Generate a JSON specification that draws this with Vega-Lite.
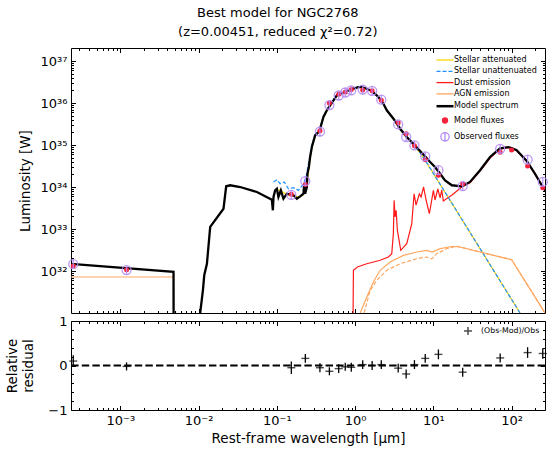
{
  "$schema": "https://vega.github.io/schema/vega-lite/v6.json",
  "background": "white",
  "padding": {"left": 5, "right": 7, "top": 7, "bottom": 4},
  "title": {"text": ["Best model for NGC2768", "(z=0.00451, reduced χ²=0.72)"], "fontSize": 13, "font": "DejaVu Sans", "fontWeight": "normal", "anchor": "middle", "lineHeight": 19, "offset": 8, "color": "black"},
  "datasets": {
    "spec": [
      {"l": 0.00023, "v": 1.48e32, "s": "Model spectrum", "k": "m1"},
      {"l": 0.00478, "v": 9.6e31, "s": "Model spectrum", "k": "m1"},
      {"l": 0.00479, "v": 1e31, "s": "Model spectrum", "k": "m1"},
      {"l": 0.01047, "v": 1e31, "s": "Model spectrum", "k": "m2"},
      {"l": 0.01135, "v": 3.47e31, "s": "Model spectrum", "k": "m2"},
      {"l": 0.0118, "v": 7.9e31, "s": "Model spectrum", "k": "m2"},
      {"l": 0.01277, "v": 1.49e32, "s": "Model spectrum", "k": "m2"},
      {"l": 0.01406, "v": 1.12e33, "s": "Model spectrum", "k": "m2"},
      {"l": 0.0208, "v": 3.04e33, "s": "Model spectrum", "k": "m2"},
      {"l": 0.0225, "v": 1.04e34, "s": "Model spectrum", "k": "m2"},
      {"l": 0.02534, "v": 1.1e34, "s": "Model spectrum", "k": "m2"},
      {"l": 0.03398, "v": 1.0e34, "s": "Model spectrum", "k": "m2"},
      {"l": 0.0556, "v": 7.6e33, "s": "Model spectrum", "k": "m2"},
      {"l": 0.0863, "v": 4.99e33, "s": "Model spectrum", "k": "m2"},
      {"l": 0.0889, "v": 2.79e33, "s": "Model spectrum", "k": "m2"},
      {"l": 0.0906, "v": 5.78e33, "s": "Model spectrum", "k": "m2"},
      {"l": 0.0951, "v": 8.34e33, "s": "Model spectrum", "k": "m2"},
      {"l": 0.1, "v": 9.12e33, "s": "Model spectrum", "k": "m2"},
      {"l": 0.1047, "v": 5.78e33, "s": "Model spectrum", "k": "m2"},
      {"l": 0.1125, "v": 8.34e33, "s": "Model spectrum", "k": "m2"},
      {"l": 0.1214, "v": 5.26e33, "s": "Model spectrum", "k": "m2"},
      {"l": 0.1343, "v": 6.92e33, "s": "Model spectrum", "k": "m2"},
      {"l": 0.1449, "v": 6.7e33, "s": "Model spectrum", "k": "m2"},
      {"l": 0.163, "v": 6.34e33, "s": "Model spectrum", "k": "m2"},
      {"l": 0.18, "v": 5.26e33, "s": "Model spectrum", "k": "m2"},
      {"l": 0.1986, "v": 6.0e33, "s": "Model spectrum", "k": "m2"},
      {"l": 0.2188, "v": 6.92e33, "s": "Model spectrum", "k": "m2"},
      {"l": 0.2234, "v": 1.2e34, "s": "Model spectrum", "k": "m2"},
      {"l": 0.2298, "v": 6.92e33, "s": "Model spectrum", "k": "m2"},
      {"l": 0.2415, "v": 1.0e34, "s": "Model spectrum", "k": "m2"},
      {"l": 0.2459, "v": 2.07e34, "s": "Model spectrum", "k": "m2"},
      {"l": 0.2564, "v": 2.99e34, "s": "Model spectrum", "k": "m2"},
      {"l": 0.266, "v": 5.18e34, "s": "Model spectrum", "k": "m2"},
      {"l": 0.28, "v": 8.96e34, "s": "Model spectrum", "k": "m2"},
      {"l": 0.3083, "v": 1.7e35, "s": "Model spectrum", "k": "m2"},
      {"l": 0.35, "v": 2.15e35, "s": "Model spectrum", "k": "m2"},
      {"l": 0.3937, "v": 4.64e35, "s": "Model spectrum", "k": "m2"},
      {"l": 0.4352, "v": 6.7e35, "s": "Model spectrum", "k": "m2"},
      {"l": 0.4797, "v": 8.8e35, "s": "Model spectrum", "k": "m2"},
      {"l": 0.5838, "v": 1.52e36, "s": "Model spectrum", "k": "m2"},
      {"l": 0.745, "v": 1.83e36, "s": "Model spectrum", "k": "m2"},
      {"l": 0.863, "v": 2.08e36, "s": "Model spectrum", "k": "m2"},
      {"l": 1.1, "v": 2.4e36, "s": "Model spectrum", "k": "m2"},
      {"l": 1.218, "v": 2.4e36, "s": "Model spectrum", "k": "m2"},
      {"l": 1.41, "v": 2.19e36, "s": "Model spectrum", "k": "m2"},
      {"l": 1.633, "v": 1.93e36, "s": "Model spectrum", "k": "m2"},
      {"l": 1.985, "v": 1.39e36, "s": "Model spectrum", "k": "m2"},
      {"l": 2.3, "v": 9.6e35, "s": "Model spectrum", "k": "m2"},
      {"l": 2.54, "v": 6.7e35, "s": "Model spectrum", "k": "m2"},
      {"l": 3.09, "v": 4.23e35, "s": "Model spectrum", "k": "m2"},
      {"l": 3.76, "v": 2.44e35, "s": "Model spectrum", "k": "m2"},
      {"l": 4.57, "v": 1.55e35, "s": "Model spectrum", "k": "m2"},
      {"l": 5.56, "v": 1.07e35, "s": "Model spectrum", "k": "m2"},
      {"l": 6.76, "v": 7.2e34, "s": "Model spectrum", "k": "m2"},
      {"l": 7.83, "v": 5.38e34, "s": "Model spectrum", "k": "m2"},
      {"l": 9.08, "v": 3.94e34, "s": "Model spectrum", "k": "m2"},
      {"l": 10.5, "v": 2.99e34, "s": "Model spectrum", "k": "m2"},
      {"l": 12.2, "v": 2.07e34, "s": "Model spectrum", "k": "m2"},
      {"l": 14.1, "v": 1.44e34, "s": "Model spectrum", "k": "m2"},
      {"l": 17.2, "v": 1.1e34, "s": "Model spectrum", "k": "m2"},
      {"l": 23.1, "v": 1.04e34, "s": "Model spectrum", "k": "m2"},
      {"l": 29.4, "v": 1.32e34, "s": "Model spectrum", "k": "m2"},
      {"l": 39.5, "v": 2.5e34, "s": "Model spectrum", "k": "m2"},
      {"l": 53.0, "v": 5.18e34, "s": "Model spectrum", "k": "m2"},
      {"l": 71.1, "v": 8.3e34, "s": "Model spectrum", "k": "m2"},
      {"l": 90.8, "v": 8.9e34, "s": "Model spectrum", "k": "m2"},
      {"l": 100, "v": 8.5e34, "s": "Model spectrum", "k": "m2"},
      {"l": 116, "v": 7.5e34, "s": "Model spectrum", "k": "m2"},
      {"l": 128, "v": 6.2e34, "s": "Model spectrum", "k": "m2"},
      {"l": 156, "v": 4.17e34, "s": "Model spectrum", "k": "m2"},
      {"l": 199, "v": 2.07e34, "s": "Model spectrum", "k": "m2"},
      {"l": 250, "v": 1.0e34, "s": "Model spectrum", "k": "m2"},
      {"l": 283, "v": 7.2e33, "s": "Model spectrum", "k": "m2"},

      {"l": 0.0906, "v": 5.5e33, "s": "Stellar attenuated", "k": "sa"},
      {"l": 0.0951, "v": 8.0e33, "s": "Stellar attenuated", "k": "sa"},
      {"l": 0.1, "v": 8.8e33, "s": "Stellar attenuated", "k": "sa"},
      {"l": 0.1125, "v": 8.0e33, "s": "Stellar attenuated", "k": "sa"},
      {"l": 0.1343, "v": 6.6e33, "s": "Stellar attenuated", "k": "sa"},
      {"l": 0.163, "v": 6.1e33, "s": "Stellar attenuated", "k": "sa"},
      {"l": 0.1986, "v": 5.8e33, "s": "Stellar attenuated", "k": "sa"},
      {"l": 0.2188, "v": 6.6e33, "s": "Stellar attenuated", "k": "sa"},
      {"l": 0.2415, "v": 9.5e33, "s": "Stellar attenuated", "k": "sa"},
      {"l": 0.2564, "v": 2.9e34, "s": "Stellar attenuated", "k": "sa"},
      {"l": 0.28, "v": 8.7e34, "s": "Stellar attenuated", "k": "sa"},
      {"l": 0.3083, "v": 1.66e35, "s": "Stellar attenuated", "k": "sa"},
      {"l": 0.35, "v": 2.1e35, "s": "Stellar attenuated", "k": "sa"},
      {"l": 0.3937, "v": 4.55e35, "s": "Stellar attenuated", "k": "sa"},
      {"l": 0.4797, "v": 8.7e35, "s": "Stellar attenuated", "k": "sa"},
      {"l": 0.5838, "v": 1.5e36, "s": "Stellar attenuated", "k": "sa"},
      {"l": 0.745, "v": 1.81e36, "s": "Stellar attenuated", "k": "sa"},
      {"l": 0.863, "v": 2.06e36, "s": "Stellar attenuated", "k": "sa"},
      {"l": 1.1, "v": 2.38e36, "s": "Stellar attenuated", "k": "sa"},
      {"l": 1.218, "v": 2.38e36, "s": "Stellar attenuated", "k": "sa"},
      {"l": 1.41, "v": 2.17e36, "s": "Stellar attenuated", "k": "sa"},
      {"l": 1.633, "v": 1.91e36, "s": "Stellar attenuated", "k": "sa"},
      {"l": 1.985, "v": 1.37e36, "s": "Stellar attenuated", "k": "sa"},
      {"l": 2.3, "v": 9.5e35, "s": "Stellar attenuated", "k": "sa"},
      {"l": 2.54, "v": 6.6e35, "s": "Stellar attenuated", "k": "sa"},
      {"l": 3.09, "v": 4.15e35, "s": "Stellar attenuated", "k": "sa"},
      {"l": 3.76, "v": 2.4e35, "s": "Stellar attenuated", "k": "sa"},
      {"l": 4.57, "v": 1.5e35, "s": "Stellar attenuated", "k": "sa"},
      {"l": 5.56, "v": 9.8e34, "s": "Stellar attenuated", "k": "sa"},
      {"l": 6.76, "v": 6.5e34, "s": "Stellar attenuated", "k": "sa"},
      {"l": 7.83, "v": 4.37e34, "s": "Stellar attenuated", "k": "sa"},
      {"l": 267, "v": 1.1e30, "s": "Stellar attenuated", "k": "sa"},

      {"l": 0.0906, "v": 1.32e34, "s": "Stellar unattenuated", "k": "su"},
      {"l": 0.1, "v": 1.49e34, "s": "Stellar unattenuated", "k": "su"},
      {"l": 0.11, "v": 1.2e34, "s": "Stellar unattenuated", "k": "su"},
      {"l": 0.124, "v": 1.32e34, "s": "Stellar unattenuated", "k": "su"},
      {"l": 0.1406, "v": 9.1e33, "s": "Stellar unattenuated", "k": "su"},
      {"l": 0.163, "v": 9.6e33, "s": "Stellar unattenuated", "k": "su"},
      {"l": 0.189, "v": 8.3e33, "s": "Stellar unattenuated", "k": "su"},
      {"l": 0.219, "v": 1.2e34, "s": "Stellar unattenuated", "k": "su"},
      {"l": 0.2366, "v": 1.74e34, "s": "Stellar unattenuated", "k": "su"},
      {"l": 0.2535, "v": 3.6e34, "s": "Stellar unattenuated", "k": "su"},
      {"l": 0.28, "v": 1.0e35, "s": "Stellar unattenuated", "k": "su"},
      {"l": 0.3083, "v": 1.8e35, "s": "Stellar unattenuated", "k": "su"},
      {"l": 0.35, "v": 2.3e35, "s": "Stellar unattenuated", "k": "su"},
      {"l": 0.3937, "v": 4.9e35, "s": "Stellar unattenuated", "k": "su"},
      {"l": 0.4797, "v": 9.2e35, "s": "Stellar unattenuated", "k": "su"},
      {"l": 0.5838, "v": 1.57e36, "s": "Stellar unattenuated", "k": "su"},
      {"l": 0.745, "v": 1.87e36, "s": "Stellar unattenuated", "k": "su"},
      {"l": 0.863, "v": 2.1e36, "s": "Stellar unattenuated", "k": "su"},
      {"l": 1.1, "v": 2.42e36, "s": "Stellar unattenuated", "k": "su"},
      {"l": 1.218, "v": 2.42e36, "s": "Stellar unattenuated", "k": "su"},
      {"l": 1.41, "v": 2.2e36, "s": "Stellar unattenuated", "k": "su"},
      {"l": 1.633, "v": 1.94e36, "s": "Stellar unattenuated", "k": "su"},
      {"l": 1.985, "v": 1.39e36, "s": "Stellar unattenuated", "k": "su"},
      {"l": 2.3, "v": 9.6e35, "s": "Stellar unattenuated", "k": "su"},
      {"l": 2.54, "v": 6.7e35, "s": "Stellar unattenuated", "k": "su"},
      {"l": 3.09, "v": 4.2e35, "s": "Stellar unattenuated", "k": "su"},
      {"l": 3.76, "v": 2.43e35, "s": "Stellar unattenuated", "k": "su"},
      {"l": 4.57, "v": 1.52e35, "s": "Stellar unattenuated", "k": "su"},
      {"l": 5.56, "v": 9.9e34, "s": "Stellar unattenuated", "k": "su"},
      {"l": 6.76, "v": 6.6e34, "s": "Stellar unattenuated", "k": "su"},
      {"l": 7.83, "v": 4.4e34, "s": "Stellar unattenuated", "k": "su"},
      {"l": 267, "v": 1.1e30, "s": "Stellar unattenuated", "k": "su"},

      {"l": 0.942, "v": 1e31, "s": "Dust emission", "k": "dust"},
      {"l": 0.951, "v": 1.04e32, "s": "Dust emission", "k": "dust"},
      {"l": 1.07, "v": 1.25e32, "s": "Dust emission", "k": "dust"},
      {"l": 1.41, "v": 1.49e32, "s": "Dust emission", "k": "dust"},
      {"l": 2.09, "v": 1.8e32, "s": "Dust emission", "k": "dust"},
      {"l": 2.66, "v": 2.15e32, "s": "Dust emission", "k": "dust"},
      {"l": 2.94, "v": 2.58e32, "s": "Dust emission", "k": "dust"},
      {"l": 3.08, "v": 7.7e32, "s": "Dust emission", "k": "dust"},
      {"l": 3.15, "v": 4.8e33, "s": "Dust emission", "k": "dust"},
      {"l": 3.24, "v": 1.93e33, "s": "Dust emission", "k": "dust"},
      {"l": 3.34, "v": 2.79e33, "s": "Dust emission", "k": "dust"},
      {"l": 3.47, "v": 9.3e32, "s": "Dust emission", "k": "dust"},
      {"l": 3.83, "v": 3.11e32, "s": "Dust emission", "k": "dust"},
      {"l": 4.57, "v": 4.47e32, "s": "Dust emission", "k": "dust"},
      {"l": 5.3, "v": 1.34e33, "s": "Dust emission", "k": "dust"},
      {"l": 5.67, "v": 6.9e33, "s": "Dust emission", "k": "dust"},
      {"l": 6.01, "v": 3.72e33, "s": "Dust emission", "k": "dust"},
      {"l": 6.62, "v": 6.9e33, "s": "Dust emission", "k": "dust"},
      {"l": 6.96, "v": 5.78e33, "s": "Dust emission", "k": "dust"},
      {"l": 7.5, "v": 1.0e34, "s": "Dust emission", "k": "dust"},
      {"l": 8.07, "v": 4.9e33, "s": "Dust emission", "k": "dust"},
      {"l": 8.89, "v": 2.31e33, "s": "Dust emission", "k": "dust"},
      {"l": 10.0, "v": 8.3e33, "s": "Dust emission", "k": "dust"},
      {"l": 10.5, "v": 4.9e33, "s": "Dust emission", "k": "dust"},
      {"l": 11.4, "v": 8.96e33, "s": "Dust emission", "k": "dust"},
      {"l": 12.2, "v": 5.5e33, "s": "Dust emission", "k": "dust"},
      {"l": 12.8, "v": 8.5e33, "s": "Dust emission", "k": "dust"},
      {"l": 13.4, "v": 4.65e33, "s": "Dust emission", "k": "dust"},
      {"l": 17.3, "v": 6.45e33, "s": "Dust emission", "k": "dust"},
      {"l": 23.1, "v": 1.0e34, "s": "Dust emission", "k": "dust"},
      {"l": 29.4, "v": 1.26e34, "s": "Dust emission", "k": "dust"},
      {"l": 39.5, "v": 2.4e34, "s": "Dust emission", "k": "dust"},
      {"l": 53.0, "v": 4.9e34, "s": "Dust emission", "k": "dust"},
      {"l": 71.1, "v": 8.0e34, "s": "Dust emission", "k": "dust"},
      {"l": 90.8, "v": 8.7e34, "s": "Dust emission", "k": "dust"},
      {"l": 100, "v": 8.3e34, "s": "Dust emission", "k": "dust"},
      {"l": 116, "v": 7.3e34, "s": "Dust emission", "k": "dust"},
      {"l": 128, "v": 6.0e34, "s": "Dust emission", "k": "dust"},
      {"l": 156, "v": 4.05e34, "s": "Dust emission", "k": "dust"},
      {"l": 199, "v": 2.0e34, "s": "Dust emission", "k": "dust"},
      {"l": 250, "v": 9.7e33, "s": "Dust emission", "k": "dust"},
      {"l": 283, "v": 7.0e33, "s": "Dust emission", "k": "dust"},

      {"l": 0.00023, "v": 7.2e31, "s": "AGN emission", "k": "agnx"},
      {"l": 0.00478, "v": 7.2e31, "s": "AGN emission", "k": "agnx"},
      {"l": 0.00479, "v": 1e31, "s": "AGN emission", "k": "agnx"},

      {"l": 1.16, "v": 1e31, "s": "AGN emission", "k": "agn"},
      {"l": 1.41, "v": 2.4e31, "s": "AGN emission", "k": "agn"},
      {"l": 1.71, "v": 5.5e31, "s": "AGN emission", "k": "agn"},
      {"l": 2.09, "v": 1.04e32, "s": "AGN emission", "k": "agn"},
      {"l": 2.8, "v": 1.64e32, "s": "AGN emission", "k": "agn"},
      {"l": 4.14, "v": 2.36e32, "s": "AGN emission", "k": "agn"},
      {"l": 6.14, "v": 2.83e32, "s": "AGN emission", "k": "agn"},
      {"l": 8.24, "v": 3.11e32, "s": "AGN emission", "k": "agn"},
      {"l": 9.62, "v": 2.83e32, "s": "AGN emission", "k": "agn"},
      {"l": 12.2, "v": 3.4e32, "s": "AGN emission", "k": "agn"},
      {"l": 18.0, "v": 3.88e32, "s": "AGN emission", "k": "agn"},
      {"l": 21.9, "v": 3.72e32, "s": "AGN emission", "k": "agn"},
      {"l": 39.5, "v": 2.83e32, "s": "AGN emission", "k": "agn"},
      {"l": 100, "v": 1.86e32, "s": "AGN emission", "k": "agn"},
      {"l": 267, "v": 1e31, "s": "AGN emission", "k": "agn"},

      {"l": 1.3, "v": 1e31, "s": "AGN emission", "k": "agnd"},
      {"l": 1.56, "v": 3.47e31, "s": "AGN emission", "k": "agnd"},
      {"l": 1.89, "v": 6.0e31, "s": "AGN emission", "k": "agnd"},
      {"l": 2.54, "v": 1.04e32, "s": "AGN emission", "k": "agnd"},
      {"l": 3.76, "v": 1.49e32, "s": "AGN emission", "k": "agnd"},
      {"l": 6.14, "v": 1.96e32, "s": "AGN emission", "k": "agnd"},
      {"l": 8.24, "v": 2.15e32, "s": "AGN emission", "k": "agnd"},
      {"l": 9.55, "v": 1.94e32, "s": "AGN emission", "k": "agnd"},
      {"l": 11.0, "v": 2.58e32, "s": "AGN emission", "k": "agnd"},
      {"l": 14.8, "v": 3.4e32, "s": "AGN emission", "k": "agnd"},
      {"l": 19.9, "v": 3.88e32, "s": "AGN emission", "k": "agnd"},
      {"l": 21.9, "v": 3.72e32, "s": "AGN emission", "k": "agnd"},
      {"l": 39.5, "v": 2.83e32, "s": "AGN emission", "k": "agnd"},
      {"l": 100, "v": 1.86e32, "s": "AGN emission", "k": "agnd"},
      {"l": 267, "v": 1e31, "s": "AGN emission", "k": "agnd"}
    ],
    "phot": [
      {"l": 0.00025, "o": 1.45e32, "m": 1.32e32, "r": 0.10, "rl": -0.03, "rh": 0.23},
      {"l": 0.0012, "o": 1.05e32, "m": 1.07e32, "r": -0.02, "rl": -0.11, "rh": 0.07},
      {"l": 0.153, "o": 6.46e33, "m": 6.76e33, "r": -0.05, "rl": -0.19, "rh": 0.09},
      {"l": 0.231, "o": 1.38e34, "m": 1.15e34, "r": 0.16, "rl": 0.06, "rh": 0.26},
      {"l": 0.355, "o": 2.09e35, "m": 2.19e35, "r": -0.05, "rl": -0.15, "rh": 0.05},
      {"l": 0.469, "o": 8.91e35, "m": 1.0e36, "r": -0.13, "rl": -0.22, "rh": -0.04},
      {"l": 0.617, "o": 1.51e36, "m": 1.62e36, "r": -0.07, "rl": -0.17, "rh": 0.03},
      {"l": 0.748, "o": 1.78e36, "m": 1.82e36, "r": -0.03, "rl": -0.12, "rh": 0.06},
      {"l": 0.893, "o": 2.0e36, "m": 2.09e36, "r": -0.04, "rl": -0.14, "rh": 0.06},
      {"l": 1.25, "o": 2.09e36, "m": 2.04e36, "r": 0.02, "rl": -0.08, "rh": 0.12},
      {"l": 1.65, "o": 1.95e36, "m": 1.95e36, "r": 0.0, "rl": -0.1, "rh": 0.1},
      {"l": 2.16, "o": 1.2e36, "m": 1.17e36, "r": 0.02, "rl": -0.08, "rh": 0.12},
      {"l": 3.55, "o": 3.09e35, "m": 3.39e35, "r": -0.06, "rl": -0.16, "rh": 0.04},
      {"l": 4.49, "o": 1.55e35, "m": 1.86e35, "r": -0.19, "rl": -0.29, "rh": -0.09},
      {"l": 5.73, "o": 9.77e34, "m": 9.55e34, "r": 0.02, "rl": -0.08, "rh": 0.12},
      {"l": 7.87, "o": 5.37e34, "m": 4.47e34, "r": 0.16, "rl": 0.06, "rh": 0.26},
      {"l": 11.6, "o": 2.51e34, "m": 1.91e34, "r": 0.25, "rl": 0.14, "rh": 0.36},
      {"l": 23.7, "o": 1.05e34, "m": 1.2e34, "r": -0.15, "rl": -0.25, "rh": -0.05},
      {"l": 71.4, "o": 8.13e34, "m": 6.76e34, "r": 0.17, "rl": 0.07, "rh": 0.27},
      {"l": 100, "o": null, "m": 7.59e34, "r": null, "rl": null, "rh": null},
      {"l": 160, "o": 4.47e34, "m": 3.16e34, "r": 0.29, "rl": 0.17, "rh": 0.41},
      {"l": 250, "o": 1.32e34, "m": 9.55e33, "r": 0.27, "rl": 0.15, "rh": 0.39}
    ]
  },
  "spacing": 0,
  "resolve": {"scale": {"color": "independent"}, "legend": {"color": "independent"}},
  "vconcat": [
    {
      "width": 474,
      "height": 265,
      "resolve": {"axis": {"x": "independent", "y": "independent"}},
      "layer": [
        {
          "data": {"name": "spec"},
          "transform": [{"filter": "datum.k == 'sa' || datum.k == 'dust' || datum.k == 'agn' || datum.k == 'agnx'"}],
          "mark": {"type": "line", "strokeWidth": 1.2, "clip": true},
          "encoding": {
            "x": {"field": "l", "type": "quantitative", "scale": {"type": "log", "domain": [0.000234, 267]},
                  "axis": {"orient": "bottom", "values": [0.001, 0.01, 0.1, 1, 10, 100], "labels": false, "tickSize": -4.5, "title": null}},
            "y": {"field": "v", "type": "quantitative", "scale": {"type": "log", "domain": [1e31, 2.04e37]},
                  "axis": {"orient": "left", "values": [1e32, 1e33, 1e34, 1e35, 1e36, 1e37], "tickSize": -4.5, "labelPadding": 8.5,
                           "labelExpr": "datum.value < 2e32 ? '10³²' : datum.value < 2e33 ? '10³³' : datum.value < 2e34 ? '10³⁴' : datum.value < 2e35 ? '10³⁵' : datum.value < 2e36 ? '10³⁶' : '10³⁷'",
                           "title": "Luminosity [W]", "titlePadding": 8}},
            "color": {"field": "s", "type": "nominal",
                      "scale": {"domain": ["Stellar attenuated", "Stellar unattenuated", "Dust emission", "AGN emission", "Model spectrum", "Model fluxes", "Observed fluxes"],
                                "range": ["#ffd700", "#1e90ff", "#ff1a1a", "#ffa861", "#000000", "#f5213b", "#b48cf5"]},
                      "legend": {"title": null, "orient": "top-right", "offset": 5, "padding": 3, "labelFontSize": 8, "labelFont": "DejaVu Sans", "labelColor": "black",
                                 "symbolType": "stroke", "symbolSize": 289, "symbolStrokeWidth": 1.5, "labelOffset": 5, "rowPadding": 3.3,
                                 "encode": {"symbols": {"update": {
                                   "shape": {"signal": "datum.index == 5 ? 'circle' : datum.index == 6 ? 'M-1,0A1,1,0,1,1,1,0A1,1,0,1,1,-1,0M0,-1L0,1' : 'stroke'"},
                                   "size": {"signal": "datum.index == 5 ? 25 : datum.index == 6 ? 70 : 289"},
                                   "strokeDash": {"signal": "datum.index == 1 ? [4,2] : []"},
                                   "strokeWidth": {"signal": "datum.index == 4 ? 2.5 : 1.3"},
                                   "fill": {"signal": "datum.index == 5 ? '#f5213b' : 'transparent'"},
                                   "fillOpacity": {"signal": "datum.index == 5 ? 1 : 0"},
                                   "stroke": {"signal": "['#ffd700','#1e90ff','#ff1a1a','#ffa861','#000000','transparent','#b48cf5'][datum.index]"},
                                   "opacity": {"value": 1}
                                 }}}}},
            "detail": {"field": "k"}
          }
        },
        {
          "data": {"name": "spec"},
          "transform": [{"filter": "datum.k == 'su' || datum.k == 'agnd'"}],
          "mark": {"type": "line", "strokeWidth": 1.2, "strokeDash": [4, 2], "clip": true},
          "encoding": {
            "x": {"field": "l", "type": "quantitative", "scale": {"type": "log", "domain": [0.000234, 267]},
                  "axis": {"orient": "bottom", "values": [0.0003,0.0004,0.0005,0.0006,0.0007,0.0008,0.0009,0.002,0.003,0.004,0.005,0.006,0.007,0.008,0.009,0.02,0.03,0.04,0.05,0.06,0.07,0.08,0.09,0.2,0.3,0.4,0.5,0.6,0.7,0.8,0.9,2,3,4,5,6,7,8,9,20,30,40,50,60,70,80,90,200], "labels": false, "tickSize": -2.5, "title": null}},
            "y": {"field": "v", "type": "quantitative", "scale": {"type": "log", "domain": [1e31, 2.04e37]},
                  "axis": {"orient": "left", "values": [2e31,3e31,4e31,5e31,6e31,7e31,8e31,9e31,2e32,3e32,4e32,5e32,6e32,7e32,8e32,9e32,2e33,3e33,4e33,5e33,6e33,7e33,8e33,9e33,2e34,3e34,4e34,5e34,6e34,7e34,8e34,9e34,2e35,3e35,4e35,5e35,6e35,7e35,8e35,9e35,2e36,3e36,4e36,5e36,6e36,7e36,8e36,9e36], "labels": false, "tickSize": -2.5, "title": null}},
            "color": {"field": "s", "type": "nominal"},
            "detail": {"field": "k"}
          }
        },
        {
          "data": {"name": "spec"},
          "transform": [{"filter": "datum.k == 'm1' || datum.k == 'm2'"}],
          "mark": {"type": "line", "strokeWidth": 2.3, "clip": true},
          "encoding": {
            "x": {"field": "l", "type": "quantitative", "scale": {"type": "log", "domain": [0.000234, 267]},
                  "axis": {"orient": "top", "values": [0.001, 0.01, 0.1, 1, 10, 100], "labels": false, "tickSize": -4.5, "title": null}},
            "y": {"field": "v", "type": "quantitative", "scale": {"type": "log", "domain": [1e31, 2.04e37]},
                  "axis": {"orient": "right", "values": [1e32, 1e33, 1e34, 1e35, 1e36, 1e37], "labels": false, "tickSize": -4.5, "title": null}},
            "color": {"field": "s", "type": "nominal"},
            "detail": {"field": "k"}
          }
        },
        {
          "data": {"name": "phot"},
          "mark": {"type": "point", "filled": true, "shape": "circle", "size": 25, "opacity": 1},
          "encoding": {
            "x": {"field": "l", "type": "quantitative", "scale": {"type": "log", "domain": [0.000234, 267]},
                  "axis": {"orient": "top", "values": [0.0003,0.0004,0.0005,0.0006,0.0007,0.0008,0.0009,0.002,0.003,0.004,0.005,0.006,0.007,0.008,0.009,0.02,0.03,0.04,0.05,0.06,0.07,0.08,0.09,0.2,0.3,0.4,0.5,0.6,0.7,0.8,0.9,2,3,4,5,6,7,8,9,20,30,40,50,60,70,80,90,200], "labels": false, "tickSize": -2.5, "title": null}},
            "y": {"field": "m", "type": "quantitative", "scale": {"type": "log", "domain": [1e31, 2.04e37]},
                  "axis": {"orient": "right", "values": [2e31,3e31,4e31,5e31,6e31,7e31,8e31,9e31,2e32,3e32,4e32,5e32,6e32,7e32,8e32,9e32,2e33,3e33,4e33,5e33,6e33,7e33,8e33,9e33,2e34,3e34,4e34,5e34,6e34,7e34,8e34,9e34,2e35,3e35,4e35,5e35,6e35,7e35,8e35,9e35,2e36,3e36,4e36,5e36,6e36,7e36,8e36,9e36], "labels": false, "tickSize": -2.5, "title": null}},
            "color": {"datum": "Model fluxes", "type": "nominal"}
          }
        },
        {
          "data": {"name": "phot"},
          "transform": [{"filter": "isValid(datum.o)"}],
          "mark": {"type": "point", "filled": false, "shape": "M-1,0A1,1,0,1,1,1,0A1,1,0,1,1,-1,0M0,-1L0,1", "size": 81, "strokeWidth": 1.3, "opacity": 0.9},
          "encoding": {
            "x": {"field": "l", "type": "quantitative", "scale": {"type": "log", "domain": [0.000234, 267]}, "axis": null},
            "y": {"field": "o", "type": "quantitative", "scale": {"type": "log", "domain": [1e31, 2.04e37]}, "axis": null},
            "color": {"datum": "Observed fluxes", "type": "nominal"}
          }
        }
      ]
    },
    {
      "width": 474,
      "height": 89,
      "resolve": {"axis": {"x": "independent", "y": "independent"}},
      "layer": [
        {
          "data": {"values": [{"z": 0}]},
          "mark": {"type": "rule", "strokeDash": [7.4, 3.2], "strokeWidth": 2, "color": "black"},
          "encoding": {
            "y": {"field": "z", "type": "quantitative", "scale": {"domain": [-1, 1]},
                  "axis": {"orient": "left", "values": [-1, 0, 1], "tickSize": -4.5, "labelPadding": 8.5,
                           "labelExpr": "datum.value > 0.5 ? '1' : datum.value < -0.5 ? '−1' : '0'",
                           "title": ["Relative", "residual"], "titlePadding": 12, "titleLineHeight": 16}}
          }
        },
        {
          "data": {"name": "phot"},
          "transform": [{"filter": "isValid(datum.r)"}],
          "mark": {"type": "rule", "strokeWidth": 1.3, "color": "black"},
          "encoding": {
            "x": {"field": "l", "type": "quantitative", "scale": {"type": "log", "domain": [0.000234, 267]},
                  "axis": {"orient": "bottom", "values": [0.001, 0.01, 0.1, 1, 10, 100], "tickSize": -4.5, "labelPadding": 8.5,
                           "labelExpr": "datum.value < 0.002 ? '10⁻³' : datum.value < 0.02 ? '10⁻²' : datum.value < 0.2 ? '10⁻¹' : datum.value < 2 ? '10⁰' : datum.value < 20 ? '10¹' : '10²'",
                           "title": "Rest-frame wavelength [μm]", "titlePadding": 4}},
            "y": {"field": "rl", "type": "quantitative", "scale": {"domain": [-1, 1]},
                  "axis": {"orient": "left", "values": [-0.8, -0.6, -0.4, -0.2, 0.2, 0.4, 0.6, 0.8], "labels": false, "tickSize": -2.5, "title": null}},
            "y2": {"field": "rh"}
          }
        },
        {
          "data": {"name": "phot"},
          "transform": [{"filter": "isValid(datum.r)"}],
          "mark": {"type": "tick", "orient": "horizontal", "size": 8, "thickness": 1.4},
          "encoding": {
            "x": {"field": "l", "type": "quantitative", "scale": {"type": "log", "domain": [0.000234, 267]},
                  "axis": {"orient": "bottom", "values": [0.0003,0.0004,0.0005,0.0006,0.0007,0.0008,0.0009,0.002,0.003,0.004,0.005,0.006,0.007,0.008,0.009,0.02,0.03,0.04,0.05,0.06,0.07,0.08,0.09,0.2,0.3,0.4,0.5,0.6,0.7,0.8,0.9,2,3,4,5,6,7,8,9,20,30,40,50,60,70,80,90,200], "labels": false, "tickSize": -2.5, "title": null}},
            "y": {"field": "r", "type": "quantitative", "scale": {"domain": [-1, 1]},
                  "axis": {"orient": "right", "values": [-1, 0, 1], "labels": false, "tickSize": -4.5, "title": null}},
            "color": {"datum": "(Obs-Mod)/Obs", "type": "nominal", "scale": {"range": ["black"]},
                      "legend": {"title": null, "orient": "top-right", "offset": 5, "symbolType": "M-1,0L1,0M0,-1L0,1", "symbolSize": 64,
                                 "symbolStrokeWidth": 1.5, "symbolStrokeColor": "black", "symbolFillColor": "transparent",
                                 "labelFontSize": 7.8, "labelFont": "DejaVu Sans", "labelColor": "black", "labelOffset": 8}}
          }
        },
        {
          "data": {"name": "phot"},
          "transform": [{"filter": "isValid(datum.r)"}],
          "mark": {"type": "rule", "opacity": 0},
          "encoding": {
            "x": {"field": "l", "type": "quantitative", "scale": {"type": "log", "domain": [0.000234, 267]},
                  "axis": {"orient": "top", "values": [0.001, 0.01, 0.1, 1, 10, 100], "labels": false, "tickSize": -4.5, "title": null}},
            "y": {"field": "rl", "type": "quantitative", "scale": {"domain": [-1, 1]},
                  "axis": {"orient": "right", "values": [-0.8, -0.6, -0.4, -0.2, 0.2, 0.4, 0.6, 0.8], "labels": false, "tickSize": -2.5, "title": null}},
            "y2": {"field": "rh"}
          }
        },
        {
          "data": {"name": "phot"},
          "transform": [{"filter": "isValid(datum.r)"}],
          "mark": {"type": "rule", "opacity": 0},
          "encoding": {
            "x": {"field": "l", "type": "quantitative", "scale": {"type": "log", "domain": [0.000234, 267]},
                  "axis": {"orient": "top", "values": [0.0003,0.0004,0.0005,0.0006,0.0007,0.0008,0.0009,0.002,0.003,0.004,0.005,0.006,0.007,0.008,0.009,0.02,0.03,0.04,0.05,0.06,0.07,0.08,0.09,0.2,0.3,0.4,0.5,0.6,0.7,0.8,0.9,2,3,4,5,6,7,8,9,20,30,40,50,60,70,80,90,200], "labels": false, "tickSize": -2.5, "title": null}},
            "y": {"field": "rl", "type": "quantitative", "scale": {"domain": [-1, 1]}, "axis": null},
            "y2": {"field": "rh"}
          }
        }
      ]
    }
  ],
  "config": {
    "font": "DejaVu Sans",
    "view": {"stroke": "black", "strokeWidth": 1},
    "axis": {"grid": false, "domain": false, "tickColor": "black", "tickWidth": 1, "labelColor": "black", "labelFont": "DejaVu Sans", "labelFontSize": 13, "labelFlush": false, "labelOverlap": false, "titleFont": "DejaVu Sans", "titleFontSize": 13.5, "titleFontWeight": "normal", "titleColor": "black"},
    "legend": {"labelFont": "DejaVu Sans", "labelColor": "black"}
  }
}
